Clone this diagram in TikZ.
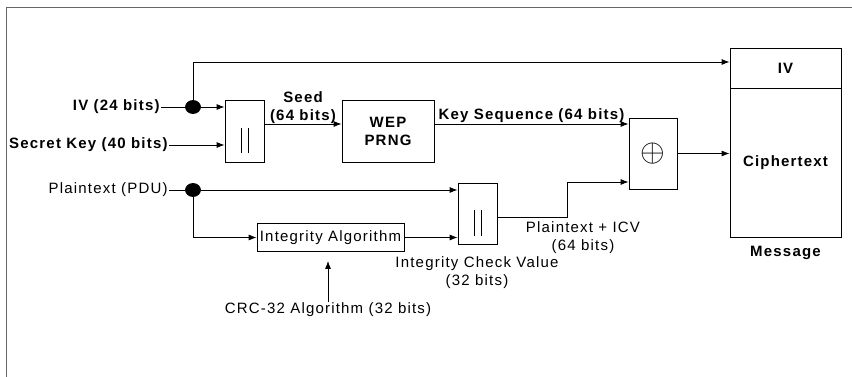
\documentclass[tikz,border=0pt]{standalone}
\usepackage{fontspec}
\setmainfont{Liberation Sans}[LetterSpace=8]
\usepackage{graphicx}
\usepackage{tikz}
\usetikzlibrary{positioning,shapes.geometric,arrows.meta}

\begin{document}
\begin{tikzpicture}[>={Latex[length=8pt,width=6pt]},x=1pt,y=-1pt,line width=0.8pt,
  txt/.style={font=\fontsize{15}{18}\selectfont,inner sep=1pt,align=center},
  btxt/.style={font=\fontsize{15}{18}\selectfont\bfseries,inner sep=1pt,align=center},
  blk/.style={draw,rectangle,inner sep=0pt},
  dot/.style={draw,fill,ellipse,minimum width=15pt,minimum height=13pt,inner sep=0pt}]
\useasboundingbox (0,0) rectangle (852,377);
\draw[black!60] (6,377) -- (6,7) -- (852,7);
\node[btxt,anchor=east] (ivin) at (161,107) {IV (24 bits)};
\node[btxt,anchor=east] (skin) at (169,145) {Secret Key (40 bits)};
\node[txt,anchor=east] (ptin) at (169,190) {Plaintext (PDU)};
\node[dot] (dotiv) at (193,107) {};
\node[dot] (dotpt) at (193,190) {};
\node[blk,minimum width=39pt,minimum height=62pt] (cat1) at (244.5,131) {};
\node[blk,btxt,minimum width=92pt,minimum height=62pt] (prng) at (388,131) {WEP\\PRNG};
\node[blk,txt,minimum width=48pt,minimum height=71pt] (xor) at (653,153.5) {\scalebox{2.2}{$\oplus$}};
\node[blk,btxt,minimum width=111pt,minimum height=40pt] (ivf) at (785.5,68) {IV};
\node[blk,btxt,minimum width=111pt,minimum height=149pt] (ctf) at (785.5,162.5) {Ciphertext};
\node[btxt,below=7pt of ctf] (msg) {Message};
\node[blk,minimum width=39pt,minimum height=61pt] (cat2) at (477.5,213.5) {};
\node[blk,txt,minimum width=147pt,minimum height=28pt] (ia) at (330.5,237.5) {Integrity Algorithm};
\node[txt] (crc) at (328,310) {CRC-32 Algorithm (32 bits)};
\node[txt] (icvlbl) at (477,273) {Integrity Check Value\\(32 bits)};
\node[txt] (ptlbl) at (583,238) {Plaintext + ICV\\(64 bits)};
\foreach \c in {cat1,cat2} {
  \draw ([xshift=-3.5pt,yshift=3pt]\c.center) -- ([xshift=-3.5pt,yshift=-22pt]\c.center);
  \draw ([xshift=3.5pt,yshift=3pt]\c.center) -- ([xshift=3.5pt,yshift=-22pt]\c.center);
}
\draw (ivin) -- (dotiv);
\draw[->] (dotiv) -- (dotiv -| cat1.west);
\draw[->] (skin) -- (skin -| cat1.west);
\coordinate (ivtop) at (193,62);
\draw[->] (dotiv) -- (ivtop) -- (ivtop -| ivf.west);
\coordinate (seed) at ([yshift=7pt]cat1.east);
\draw[->] (seed) -- (seed -| prng.west) node[midway,above,btxt,inner sep=0pt] {Seed\\(64 bits)};
\coordinate (ks) at ([yshift=7pt]prng.east);
\draw[->] (ks) -- (ks -| xor.west) node[midway,above,btxt] {Key Sequence (64 bits)};
\draw[->] (xor) -- (xor -| ctf.west);
\draw (ptin) -- (dotpt);
\draw[->] (dotpt) -- (dotpt -| cat2.west);
\draw[->] (dotpt) |- (ia);
\draw[->] (ia) -- (ia -| cat2.west);
\coordinate (icv) at ([yshift=-3.5pt]cat2.east);
\coordinate (bend) at (567,182);
\draw[->] (icv) -| (bend) -- (bend -| xor.west);
\draw[->,shorten >=9pt] (crc) -- (crc |- ia.south);
\end{tikzpicture}
\end{document}
